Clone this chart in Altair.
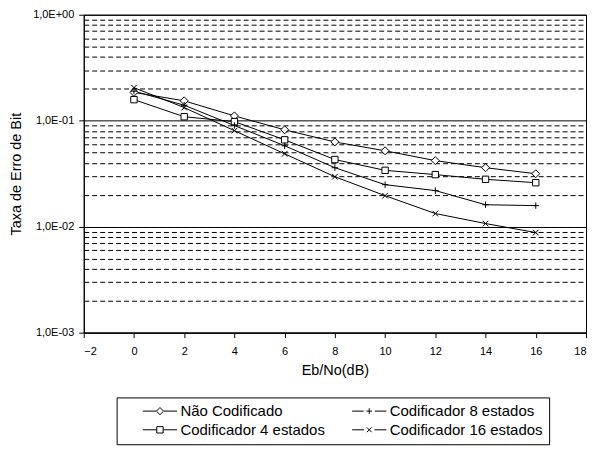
import altair as alt
import pandas as pd

ebno = [0, 2, 4, 6, 8, 10, 12, 14, 16]
nao_codificado = [0.185, 0.154, 0.111, 0.082, 0.063, 0.052, 0.042, 0.036, 0.0316]
cod_4_estados = [0.158, 0.109, 0.098, 0.066, 0.043, 0.034, 0.031, 0.028, 0.026]
cod_8_estados = [0.19, 0.14, 0.09, 0.058, 0.036, 0.0249, 0.0219, 0.0161, 0.0158]
cod_16_estados = [0.205, 0.133, 0.0805, 0.0487, 0.0296, 0.0196, 0.0133, 0.0107, 0.0088]

# legend is filled column by column
series_names = ["Não Codificado", "Codificador 4 estados",
                "Codificador 8 estados", "Codificador 16 estados"]
series_values = [nao_codificado, cod_4_estados, cod_8_estados, cod_16_estados]

x_ticks = list(range(-2, 19, 2))
y_ticks = [m * 10.0 ** e for e in (-3, -2, -1) for m in range(1, 10)] + [1.0]

# marker shapes (plot) and line+marker shapes (legend)
marker_paths = [
    "M0,-1L1,0L0,1L-1,0Z",
    "M-0.8,-0.8L0.8,-0.8L0.8,0.8L-0.8,0.8Z",
    "M-0.8,0L0.8,0M0,-0.8L0,0.8",
    "M-0.7,-0.7L0.7,0.7M-0.7,0.7L0.7,-0.7",
]
legend_paths = [
    "M-4.3,0L-1,0M1,0L4.3,0M0,-0.9L0.9,0L0,0.9L-0.9,0Z",
    "M-4.3,0L-0.8,0M0.8,0L4.3,0M-0.8,-0.8L0.8,-0.8L0.8,0.8L-0.8,0.8Z",
    "M-4.3,0L-1.4,0M1.4,0L4.3,0M-0.7,0L0.7,0M0,-0.7L0,0.7",
    "M-4.3,0L-1.3,0M1.3,0L4.3,0M-0.6,-0.6L0.6,0.6M-0.6,0.6L0.6,-0.6",
]

rows = []
for name, vals in zip(series_names, series_values):
    for xv, yv in zip(ebno, vals):
        rows.append({"serie": name, "ebno": xv, "ber": yv})
df = pd.DataFrame(rows)
leg_df = pd.DataFrame({"leg": series_names})

FONT = "Liberation Sans"
decade = "abs(log(datum.value)/LN10 - round(log(datum.value)/LN10)) < 1e-6"
label_expr = (f"({decade}) ? ('1,0E' + (round(log(datum.value)/LN10) == 0 ? '+00' : "
              "'-0' + (-round(log(datum.value)/LN10)))) : ''")
legend_label_expr = ("(datum.label == 'Codificador 8 estados' || "
                     "datum.label == 'Codificador 16 estados') ? "
                     "datum.label + '\u00a0\u00a0\u00a0' : datum.label")

x_enc = alt.X("ebno:Q", scale=alt.Scale(domain=[-2, 18], nice=False),
              axis=alt.Axis(values=x_ticks, title="Eb/No(dB)", grid=False,
                            tickSize=5, labelPadding=8, titlePadding=7))
y_enc = alt.Y("ber:Q", scale=alt.Scale(type="log", domain=[0.001, 1], nice=False),
              axis=alt.Axis(values=y_ticks, labelExpr=label_expr, labelOverlap=False,
                            labelFlush=False, grid=True, gridColor="black",
                            gridOpacity=1, gridWidth=1,
                            gridDash={"condition": {"test": decade, "value": []},
                                      "value": [5, 3]},
                            tickSize={"condition": {"test": decade, "value": 5},
                                      "value": 0},
                            labelPadding=5, title="Taxa de Erro de Bit",
                            titlePadding=9))

lines = alt.Chart(df).mark_line(color="black", strokeWidth=1).encode(
    x=x_enc, y=y_enc, detail="serie:N")

points = alt.Chart(df).mark_point(filled=True, fill="white", stroke="black",
                                  strokeWidth=1, size=64, opacity=1).encode(
    x="ebno:Q", y="ber:Q",
    shape=alt.Shape("serie:N", scale=alt.Scale(domain=series_names, range=marker_paths),
                    legend=None))

legend_layer = alt.Chart(leg_df).mark_point(opacity=0, size=4).encode(
    x=alt.value(250), y=alt.value(150),
    shape=alt.Shape("leg:N", scale=alt.Scale(domain=series_names, range=legend_paths),
                    legend=alt.Legend(orient="none", legendX=33, legendY=384,
                                      columns=2, title=None, strokeColor="black",
                                      padding=6, labelFont=FONT, labelFontSize=15,
                                      labelColor="black", labelExpr=legend_label_expr,
                                      symbolSize=64, symbolStrokeWidth=1,
                                      symbolFillColor="white", symbolStrokeColor="black",
                                      symbolOpacity=1, symbolOffset=30, labelOffset=13,
                                      columnPadding=6, rowPadding=3)))

chart = alt.layer(lines, points, legend_layer).resolve_scale(
    shape="independent"
).properties(
    width=504, height=319,
    padding={"left": 0, "top": 0, "right": 0, "bottom": 0}
).configure(
    background="white"
).configure_view(
    stroke="black", strokeWidth=1
).configure_axis(
    labelFont=FONT, titleFont=FONT, labelFontSize=11, titleFontSize=14.5,
    titleFontWeight="normal", labelColor="black", titleColor="black",
    domainColor="black", tickColor="black"
)

chart.save("out.html", embed_options={"renderer": "svg", "actions": False})
